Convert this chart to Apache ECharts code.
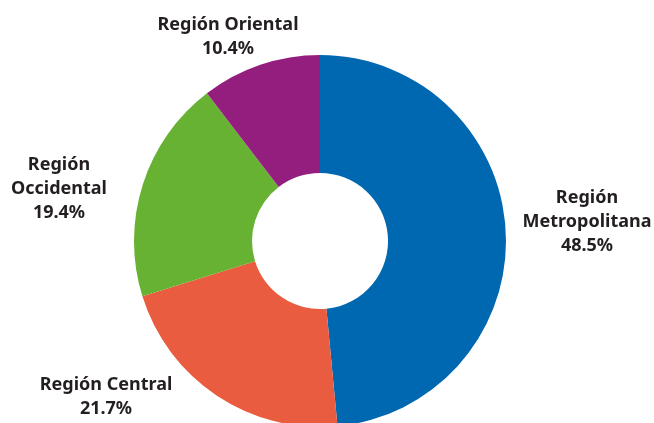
<!DOCTYPE html>
<html>
<head>
<meta charset="utf-8">
<script src="https://cdn.jsdelivr.net/npm/echarts@6/dist/echarts.min.js"></script>
<style>
  html, body { margin: 0; padding: 0; background: #fff; }
  #chart { width: 654px; height: 423px; }
</style>
</head>
<body>
<div id="chart"></div>
<script>
// regiones (orden horario desde arriba)
const categories = ['Región\nMetropolitana', 'Región Central', 'Región\nOccidental', 'Región Oriental']
const values = [48.5, 21.7, 19.4, 10.4]
const colors = ['#0067b1', '#ea5c40', '#67b232', '#931e7e']
// posición de cada etiqueta (centro del bloque de texto)
const labelPos = [[587, 222], [106, 397], [59, 189], [228, 37]]

const chart = echarts.init(document.getElementById('chart'))

chart.setOption({
  animation: false,
  series: [{
    type: 'pie',
    center: [320, 241],
    radius: [68, 186],
    startAngle: 90,
    clockwise: true,
    data: categories.map((name, i) => ({
      name: name,
      value: values[i],
      itemStyle: { color: colors[i] }
    })),
    label: {
      show: true,
      position: 'inside',
      formatter: p => p.name + '\n' + p.value.toFixed(1) + '%',
      fontFamily: 'Noto Sans',
      fontWeight: 'bold',
      fontSize: 18,
      lineHeight: 24,
      color: '#231f20',
      align: 'center',
      overflow: 'none'
    },
    labelLine: { show: false },
    labelLayout: p => ({
      x: labelPos[p.dataIndex][0],
      y: labelPos[p.dataIndex][1],
      align: 'center',
      verticalAlign: 'middle'
    }),
    emphasis: { disabled: true }
  }]
})

window.addEventListener('resize', () => chart.resize())
</script>
</body>
</html>
